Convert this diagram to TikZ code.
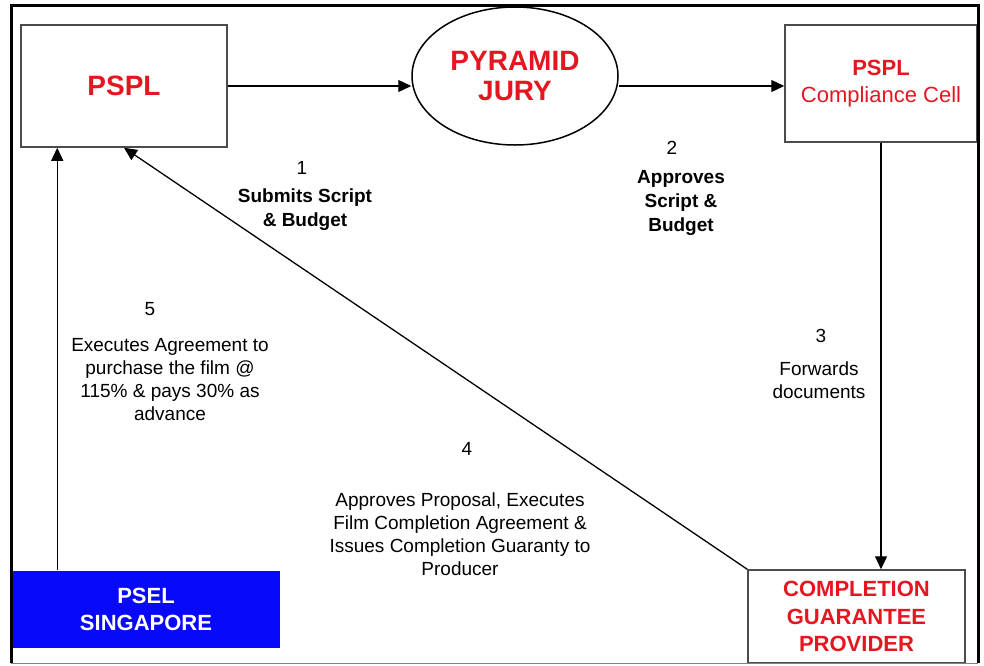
\documentclass[tikz,border=0pt]{standalone}
\usepackage{fontspec}
\setmainfont{Liberation Sans}
\usetikzlibrary{arrows.meta,positioning,shapes.geometric}
\definecolor{pyred}{RGB}{228,22,32}
\definecolor{pyblue}{RGB}{8,8,250}
\definecolor{boxgray}{RGB}{75,75,75}

\begin{document}
\begin{tikzpicture}[x=1pt, y=-1pt, > = {Triangle[length=13pt,width=12pt]}, line width=1.3pt]
  \tikzstyle{caixa}=[rectangle, draw=boxgray, line width=1.5pt, inner sep=0pt, align=center, text=pyred, font=\bfseries\fontsize{28}{30}\selectfont]
  \tikzstyle{rotulo}=[align=center, inner sep=0pt, font=\fontsize{19}{23}\selectfont]
  \tikzstyle{passo}=[align=center, inner sep=0pt, font=\bfseries\fontsize{19}{24}\selectfont]

  \useasboundingbox (0,0) rectangle (984,665);

  % Caixas
  \node[caixa, minimum width=206, minimum height=122] (pspl) at (124,86) {PSPL};
  \node[caixa, ellipse, draw=black, minimum width=206, minimum height=138] (jury) at (515,76) {PYRAMID\\JURY};
  \node[caixa, minimum width=192, minimum height=117, font=\fontsize{22}{27}\selectfont] (cell) at (881,83.5) {\textbf{PSPL}\\Compliance Cell};
  \node[caixa, minimum width=217, minimum height=93, font=\bfseries\fontsize{22}{27.5}\selectfont] (cgp) at (856.5,616.5) {COMPLETION\\GUARANTEE\\PROVIDER};
  \node[caixa, draw=none, fill=pyblue, text=white, minimum width=268, minimum height=77, font=\bfseries\fontsize{22}{27}\selectfont] (psel) at (146,609.5) {PSEL\\SINGAPORE};

  % Rotulos
  \node[rotulo] (n1) at (302,168) {1};
  \node[passo] (t1) at (305,210) {Submits Script\\\& Budget};
  \node[rotulo] (n2) at (672,148) {2};
  \node[passo] (t2) at (681,203) {Approves\\Script \&\\Budget};
  \node[rotulo] (n3) at (821,336) {3};
  \node[rotulo] (t3) at (819,380) {Forwards\\documents};
  \node[rotulo] (n4) at (467,449) {4};
  \node[rotulo] (t4) at (460,534) {Approves Proposal, Executes\\Film Completion Agreement \&\\Issues Completion Guaranty to\\Producer};
  \node[rotulo] (n5) at (150,309) {5};
  \node[rotulo] (t5) at (170,380) {Executes Agreement to\\purchase the film @\\115\% \& pays 30\% as\\advance};

  % Setas
  \draw[->] (pspl.east) -- (pspl.east -| jury.west);
  \draw[->] (jury.east |- pspl.east) -- (cell.west |- pspl.east);
  \draw[->] (cell.south) -- (cell.south |- cgp.north);
  \draw[->] (cgp.north west) -- (pspl.south);
  \draw[->] ([xshift=46pt]psel.north west) -- ([xshift=46pt]psel.north west |- pspl.south);

  % Moldura
  \draw[gray, line width=1pt] (11,663) -- (978,663);
  \draw[line width=3pt] (11,663) -- (11,5) -- (978,5) -- (978,663);
\end{tikzpicture}
\end{document}
